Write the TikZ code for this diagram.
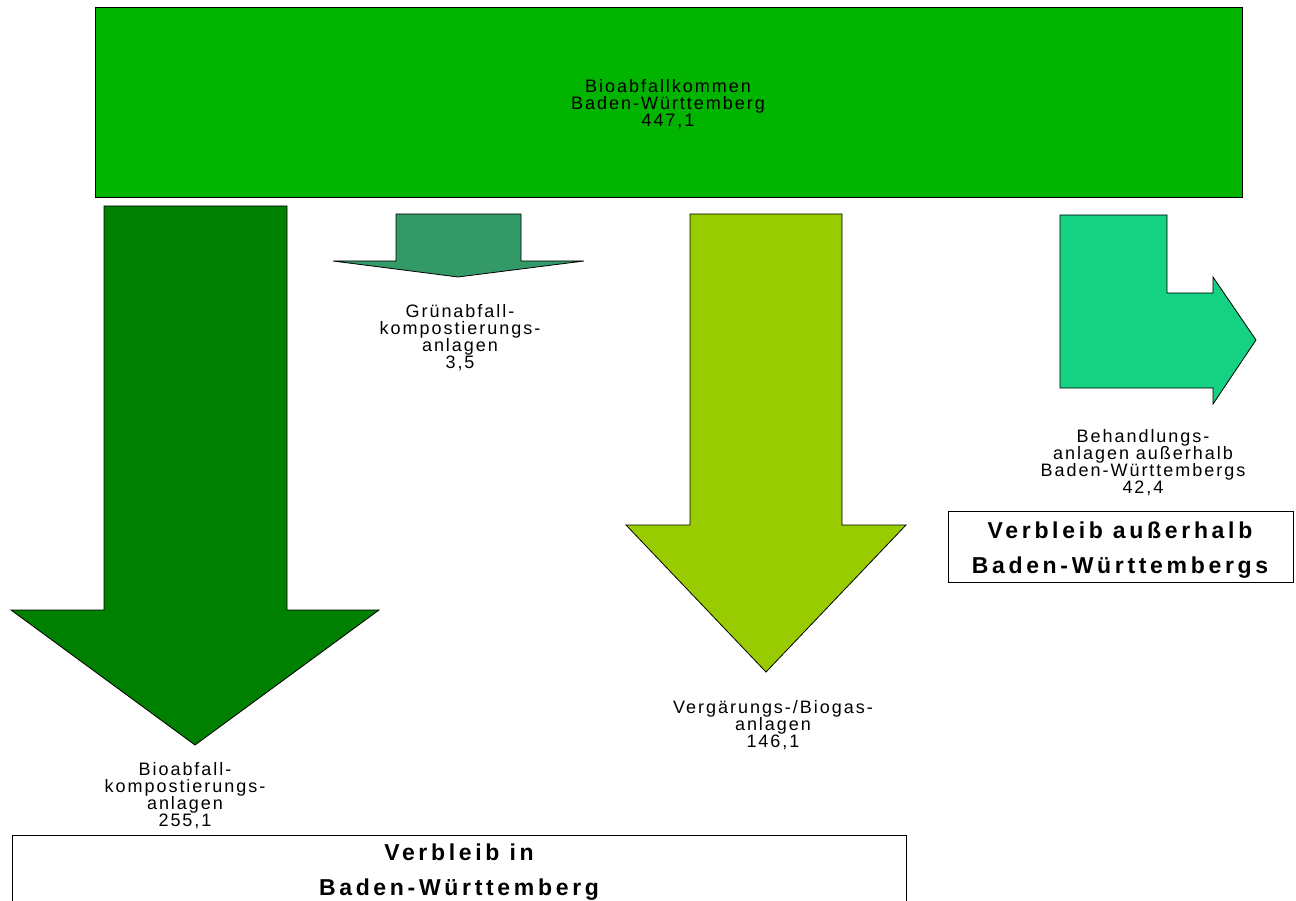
\documentclass[tikz,border=0pt]{standalone}
\usepackage{fontspec}
\setmainfont{Liberation Sans}
\newfontfamily\lblfont[LetterSpace=11]{Liberation Sans}
\newfontfamily\boldlbl[LetterSpace=16]{Liberation Sans}
\definecolor{topgreen}{RGB}{0,180,0}
\definecolor{darkgreen}{RGB}{0,128,0}
\definecolor{seagreen}{RGB}{51,153,102}
\definecolor{limegreen}{RGB}{153,204,0}
\definecolor{mintgreen}{RGB}{20,210,130}
\begin{document}
\begin{tikzpicture}[x=1pt,y=-1pt,
  shp/.style={draw=black, line width=0.8pt, line join=miter},
  lbl/.style={align=center, font=\lblfont\fontsize{18}{17}\selectfont, inner sep=0pt},
  blbl/.style={align=center, font=\boldlbl\bfseries\fontsize{23}{35}\selectfont, inner sep=0pt},
  frame/.style={draw=black, line width=0.8pt}]
\useasboundingbox (0,0) rectangle (1296,901);
\fill[white] (0,0) rectangle (1296,901);
% source box
\draw[shp, fill=topgreen] (95,7) rectangle (1242,197);
\node[lbl] (top) at (668,104) {Bioabfallkommen\\Baden-Württemberg\\447,1};
% dark green arrow
\draw[shp, fill=darkgreen] (104,206) -- (287,206) -- (287,610) -- (379,610) -- (195,745) -- (11,610) -- (104,610) -- cycle;
\node[lbl] (bio) at (185,796) {Bioabfall-\\kompostierungs-\\anlagen\\255,1};
% small arrow
\draw[shp, fill=seagreen] (396,214) -- (521,214) -- (521,261) -- (584,261) -- (458,277) -- (333,261) -- (396,261) -- cycle;
\node[lbl] (gruen) at (460,338) {Grünabfall-\\kompostierungs-\\anlagen\\3,5};
% lime arrow
\draw[shp, fill=limegreen] (690,214) -- (842,214) -- (842,525) -- (906,525) -- (766,672) -- (626,525) -- (690,525) -- cycle;
\node[lbl] (verg) at (773,725) {Vergärungs-/Biogas-\\anlagen\\146,1};
% bent arrow
\draw[shp, fill=mintgreen] (1060,215) -- (1167,215) -- (1167,293) -- (1213,293) -- (1213,277) -- (1256,340) -- (1213,404) -- (1213,388) -- (1060,388) -- cycle;
\node[lbl] (beh) at (1143,463) {Behandlungs-\\anlagen außerhalb\\Baden-Württembergs\\42,4};
% outside box
\draw[frame] (948,511) rectangle (1293,582);
\node[blbl] (out) at (1120,550) {Verbleib außerhalb\\Baden-Württembergs};
% inside box
\draw[frame] (12,915) -- (12,835) -- (906,835) -- (906,915);
\node[blbl] (in) at (459,872) {Verbleib in\\Baden-Württemberg};
\end{tikzpicture}
\end{document}
